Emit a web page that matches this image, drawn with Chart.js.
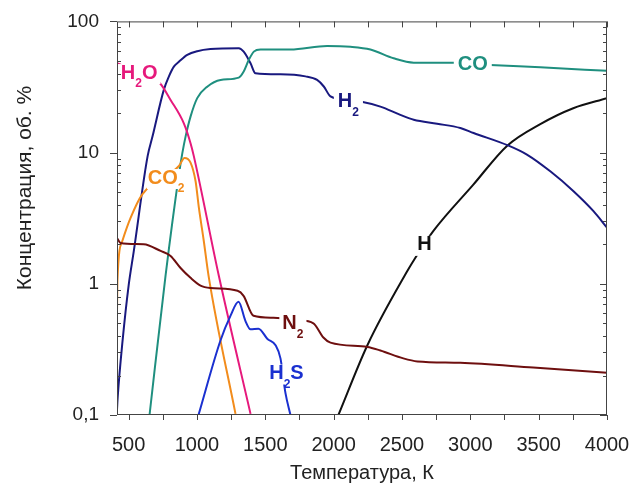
<!DOCTYPE html>
<html>
<head>
<meta charset="utf-8">
<script src="https://cdnjs.cloudflare.com/ajax/libs/Chart.js/4.4.1/chart.umd.min.js"></script>
<style>
  body { margin: 0; background: #fff; }
  canvas { display: block; }
</style>
</head>
<body>
<canvas id="chart" width="637" height="489"></canvas>
<script>
  // axis ticks
  const xTicks = [500, 1000, 1500, 2000, 2500, 3000, 3500, 4000];
  const yTicks = [0.1, 1, 10, 100];
  const yTickLabels = ['0,1', '1', '10', '100'];

  // temperatures (K) and concentrations (vol. %)
  const h2T = [415, 420, 456, 500, 537, 639, 675, 758, 795, 831, 868, 929, 1002, 1099, 1306, 1342, 1392, 1428, 1611, 1794, 1879, 1928, 1977, 2100, 2196, 2342, 2488, 2586, 2757, 2927, 3024, 3280, 3414, 3585, 3755, 3901, 4000];
  const h2C = [0.11, 0.136, 0.37, 0.97, 1.75, 9.4, 13.3, 30.2, 38.1, 45.2, 49.2, 55.5, 59.3, 61.6, 62.5, 58.8, 48, 40.2, 39.5, 38.1, 35.8, 31.9, 26.8, 25.2, 24.5, 22.4, 19.4, 17.8, 16.6, 15.4, 14.1, 11.3, 9.66, 7.2, 5.08, 3.58, 2.68];

  const coT = [653, 770, 868, 893, 917, 953, 1002, 1075, 1173, 1306, 1342, 1379, 1416, 1465, 1684, 1952, 2123, 2269, 2439, 2586, 2878, 3146, 3512, 4000];
  const coC = [0.1, 1.15, 6.8, 9.9, 13.3, 18.8, 26, 31.8, 35.8, 37.3, 41.5, 50.8, 58.8, 61.1, 61.1, 65, 64.1, 61.1, 52.3, 48.5, 48.5, 46.6, 44.7, 42];

  const h2oT = [415, 577, 729, 807, 904, 953, 977, 1160, 1392];
  const h2oC = [48, 40.4, 33.8, 25.2, 16.7, 11.8, 9.4, 1.15, 0.102];

  const co2T = [415, 418, 454, 515, 600, 868, 909, 953, 990, 1014, 1050, 1085, 1282];
  const co2C = [0.6, 1.05, 2.12, 3.19, 4.8, 7.9, 9.1, 8.4, 6.05, 3.8, 2.12, 1.15, 0.102];

  const n2T = [415, 441, 610, 734, 807, 880, 953, 1026, 1099, 1297, 1341, 1414, 1560, 1735, 1852, 1925, 1977, 2247, 2342, 2510, 2613, 2927, 3460, 4000];
  const n2C = [2.23, 2.05, 2.0, 1.78, 1.63, 1.32, 1.11, 0.97, 0.93, 0.885, 0.81, 0.57, 0.55, 0.53, 0.50, 0.39, 0.356, 0.33, 0.31, 0.27, 0.256, 0.25, 0.23, 0.21];

  const h2sT = [1011, 1172, 1245, 1304, 1355, 1392, 1450, 1516, 1575, 1611, 1648, 1684];
  const h2sC = [0.1, 0.37, 0.57, 0.73, 0.52, 0.45, 0.455, 0.38, 0.34, 0.27, 0.146, 0.1];

  const hT = [2035, 2247, 2539, 2598, 2730, 3022, 3270, 3512, 3753, 4000];
  const hC = [0.1, 0.34, 1.25, 1.58, 2.53, 5.7, 11.3, 16.5, 21.8, 26];

  const colors = {
    h2: '#19197f', co: '#1f8f7f', h2o: '#e6197c', co2: '#f28c1c',
    n2: '#6e0f0f', h2s: '#1a30d0', h: '#111111'
  };

  const series = [
    ['N2', n2T, n2C, colors.n2],
    ['H2S', h2sT, h2sC, colors.h2s],
    ['CO2', co2T, co2C, colors.co2],
    ['H2O', h2oT, h2oC, colors.h2o],
    ['CO', coT, coC, colors.co],
    ['H2', h2T, h2C, colors.h2],
    ['H', hT, hC, colors.h]
  ];

  // curve labels in data coordinates, [text, isSubscript] parts
  const curveLabels = [
    { parts: [['CO', 0]], x: 3018, y: 47.2, color: colors.co, pad: 4 },
    { parts: [['H', 0], ['2', 1]], x: 2108, y: 24.6, color: colors.h2, pad: 4 },
    { parts: [['H', 0], ['2', 1], ['O', 0]], x: 577, y: 40.4, color: colors.h2o, pad: 3 },
    { parts: [['CO', 0], ['2', 1]], x: 775, y: 6.4, color: colors.co2, pad: 1 },
    { parts: [['N', 0], ['2', 1]], x: 1702, y: 0.5, color: colors.n2, pad: 3 },
    { parts: [['H', 0], ['2', 1], ['S', 0]], x: 1655, y: 0.207, color: colors.h2s, pad: 3 },
    { parts: [['H', 0]], x: 2664, y: 1.98, color: colors.h, pad: 3 }
  ];

  const FONT = "'Liberation Sans', Arial, sans-serif";

  const decor = {
    id: 'decor',
    afterDatasetsDraw(chart) {
      const { ctx, scales: { x, y } } = chart;
      ctx.save();
      ctx.textBaseline = 'middle';
      ctx.textAlign = 'left';
      curveLabels.forEach(lb => {
        const px = x.getPixelForValue(lb.x);
        const py = y.getPixelForValue(lb.y);
        let w = 0;
        lb.parts.forEach(([t, sub]) => {
          ctx.font = sub ? `bold 12px ${FONT}` : `bold 20px ${FONT}`;
          w += ctx.measureText(t).width;
        });
        ctx.fillStyle = '#fff';
        ctx.fillRect(px - w / 2 - lb.pad, py - 9, w + 2 * lb.pad, 20);
        let cx = px - w / 2;
        ctx.fillStyle = lb.color;
        lb.parts.forEach(([t, sub]) => {
          ctx.font = sub ? `bold 12px ${FONT}` : `bold 20px ${FONT}`;
          ctx.fillText(t, cx, sub ? py + 11 : py);
          cx += ctx.measureText(t).width;
        });
      });
      ctx.restore();
    },
    afterDraw(chart) {
      const { ctx, chartArea: a, scales: { x, y } } = chart;
      ctx.save();
      ctx.strokeStyle = '#444';
      ctx.lineWidth = 1;
      ctx.strokeRect(a.left + 0.5, a.top + 0.5, a.right - a.left - 1, a.bottom - a.top - 1);
      const line = (x1, y1, x2, y2) => { ctx.beginPath(); ctx.moveTo(x1, y1); ctx.lineTo(x2, y2); ctx.stroke(); };
      for (let v = 500; v <= 4000; v += 250) {
        const px = Math.round(x.getPixelForValue(v)) + 0.5;
        line(px, a.bottom, px, a.bottom + 5);
        line(px, a.top, px, a.top + 6);
      }
      [0.1, 1, 10].forEach(d => {
        for (let m = 1; m <= 9; m++) {
          const py = Math.round(y.getPixelForValue(m * d)) + 0.5;
          if (m === 1) {
            line(a.left - 7, py, a.left, py);
            line(a.right - 7, py, a.right, py);
          } else {
            line(a.left, py, a.left + 4, py);
            line(a.right - 4, py, a.right, py);
          }
        }
      });
      const pTop = Math.round(y.getPixelForValue(100)) + 0.5;
      line(a.left - 7, pTop, a.left, pTop);

      // y axis title
      ctx.translate(25, 188);
      ctx.rotate(-Math.PI / 2);
      ctx.fillStyle = '#222';
      ctx.font = `21px ${FONT}`;
      ctx.textAlign = 'center';
      ctx.textBaseline = 'middle';
      ctx.fillText('Концентрация, об. %', 0, 0);
      ctx.restore();
    }
  };

  new Chart(document.getElementById('chart'), {
    type: 'line',
    data: {
      datasets: series.map(([name, T, C, color]) => ({
        label: name,
        data: T.map((t, i) => ({ x: t, y: C[i] })),
        borderColor: color,
        borderWidth: 2,
        pointRadius: 0,
        fill: false,
        cubicInterpolationMode: 'monotone'
      }))
    },
    options: {
      responsive: false,
      animation: false,
      layout: { padding: { left: 0, right: 30, top: 19, bottom: 0 } },
      plugins: { legend: { display: false }, tooltip: { enabled: false } },
      scales: {
        x: {
          type: 'linear',
          min: 415,
          max: 4000,
          afterBuildTicks: s => { s.ticks = xTicks.map(v => ({ value: v })); },
          afterFit: s => { s.height = 74; s.paddingLeft = 0; s.paddingRight = 0; },
          grid: { display: false },
          border: { display: false },
          ticks: {
            font: { size: 20, family: FONT }, color: '#222', padding: 10, maxRotation: 0, autoSkip: false,
            callback: v => String(v)
          },
          title: { display: true, text: 'Температура, К', font: { size: 20, family: FONT }, color: '#222', padding: { top: 6, bottom: 4 } }
        },
        y: {
          type: 'logarithmic',
          min: 0.1,
          max: 100,
          afterBuildTicks: s => { s.ticks = yTicks.map(v => ({ value: v })); },
          afterFit: s => { s.width = 117; },
          grid: { display: false },
          border: { display: false },
          ticks: {
            font: { size: 19, family: FONT }, color: '#222', padding: 10,
            callback: v => yTickLabels[yTicks.indexOf(v)]
          }
        }
      }
    },
    plugins: [decor]
  });
</script>
</body>
</html>
